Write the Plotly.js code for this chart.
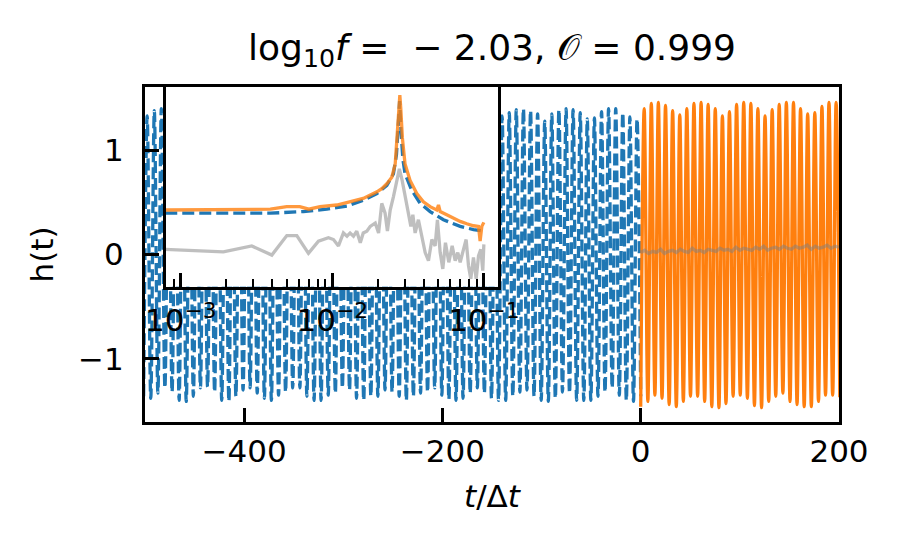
<!DOCTYPE html>
<html>
<head>
<meta charset="utf-8">
<script src="https://cdn.plot.ly/plotly-3.0.1.min.js"></script>
<style>
  body { margin: 0; background: white; }
  #chart { width: 902px; height: 552px; }
</style>
</head>
<body>
<div id="chart"></div>
<script>
// main panel: extremes of the waveform (t/dt, h)
var blueMaxT = [-497.8, -490.6, -483.5, -476.3, -469.1, -462.0, -454.8, -447.7, -440.5, -433.3,
    -426.2, -419.0, -411.9, -404.7, -397.5, -390.4, -383.2, -376.1, -368.9, -361.7,
    -354.6, -347.4, -340.3, -333.1, -325.9, -318.8, -311.6, -304.5, -297.3, -290.1,
    -283.0, -275.8, -268.7, -261.5, -254.3, -247.2, -240.0, -232.9, -225.7, -218.5,
    -211.4, -204.2, -197.1, -189.9, -182.7, -175.6, -168.4, -161.3, -154.1, -146.9,
    -139.8, -132.6, -125.5, -118.3, -111.1, -104.0, -96.8, -89.7, -82.5, -75.3,
    -68.2, -61.0, -53.9, -46.7, -39.5, -32.4, -25.2, -18.1, -10.9, -3.7];
var blueMaxV = [1.33, 1.38, 1.40, 1.40, 1.36, 1.31, 1.29, 1.34, 1.39, 1.41,
    1.38, 1.32, 1.29, 1.33, 1.38, 1.41, 1.39, 1.34, 1.30, 1.31,
    1.36, 1.40, 1.40, 1.36, 1.31, 1.29, 1.33, 1.38, 1.41, 1.39,
    1.34, 1.30, 1.31, 1.36, 1.40, 1.40, 1.36, 1.31, 1.29, 1.33,
    1.38, 1.41, 1.39, 1.34, 1.30, 1.29, 1.32, 1.37, 1.40, 1.38,
    1.33, 1.36, 1.39, 1.40, 1.38, 1.35, 1.28, 1.35, 1.39, 1.40,
    1.39, 1.36, 1.30, 1.31, 1.37, 1.40, 1.40, 1.36, 1.32, 1.30];
var blueMinT = [-501.4, -494.2, -487.0, -479.9, -472.7, -465.6, -458.4, -451.2, -444.1, -436.9,
    -429.8, -422.6, -415.4, -408.3, -401.1, -394.0, -386.8, -379.6, -372.5, -365.3,
    -358.2, -351.0, -343.8, -336.7, -329.5, -322.4, -315.2, -308.0, -300.9, -293.7,
    -286.6, -279.4, -272.2, -265.1, -257.9, -250.8, -243.6, -236.4, -229.3, -222.1,
    -215.0, -207.8, -200.6, -193.5, -186.3, -179.2, -172.0, -164.8, -157.7, -150.5,
    -143.4, -136.2, -129.0, -121.9, -114.7, -107.6, -100.4, -93.2, -86.1, -78.9,
    -71.8, -64.6, -57.4, -50.3, -43.1, -36.0, -28.8, -21.6, -14.5, -7.3, 0];
var blueMinV = [-1.36, -1.38, -1.33, -1.28, -1.32, -1.40, -1.41, -1.36, -1.28, -1.27,
    -1.32, -1.40, -1.41, -1.36, -1.30, -1.28, -1.33, -1.38, -1.40, -1.35,
    -1.32, -1.28, -1.28, -1.36, -1.40, -1.40, -1.35, -1.33, -1.28, -1.30,
    -1.38, -1.40, -1.36, -1.36, -1.30, -1.32, -1.36, -1.40, -1.36, -1.33,
    -1.32, -1.28, -1.35, -1.39, -1.40, -1.38, -1.33, -1.28, -1.33, -1.38,
    -1.40, -1.40, -1.36, -1.32, -1.30, -1.36, -1.40, -1.41, -1.38, -1.32,
    -1.33, -1.40, -1.40, -1.40, -1.36, -1.32, -1.28, -1.35, -1.40, -1.41, -1.36];

var orangeMaxT = [3.5, 10.7, 17.8, 25.0, 32.2, 39.4, 46.5, 53.7, 60.9, 68.0,
    75.2, 82.4, 89.5, 96.7, 103.9, 111.1, 118.2, 125.4, 132.6, 139.7,
    146.9, 154.1, 161.2, 168.4, 175.6, 182.8, 189.9, 197.1];
var orangeMaxV = [1.40, 1.45, 1.46, 1.43, 1.38, 1.34, 1.40, 1.45, 1.46, 1.44,
    1.40, 1.33, 1.37, 1.44, 1.46, 1.45, 1.40, 1.33, 1.39, 1.44,
    1.46, 1.46, 1.40, 1.35, 1.36, 1.42, 1.46, 1.46];
var orangeMinT = [0, 7.2, 14.3, 21.5, 28.7, 35.9, 43.0, 50.2, 57.4, 64.5,
    71.7, 78.9, 86.0, 93.2, 100.4, 107.6, 114.7, 121.9, 129.1, 136.2,
    143.4, 150.6, 157.7, 164.9, 172.1, 179.3, 186.4, 193.6, 200.8];
var orangeMinV = [-1.46, -1.41, -1.35, -1.38, -1.44, -1.46, -1.41, -1.36, -1.36, -1.41,
    -1.46, -1.47, -1.43, -1.36, -1.35, -1.38, -1.45, -1.47, -1.41, -1.36,
    -1.33, -1.41, -1.44, -1.46, -1.46, -1.41, -1.35, -1.35, -1.37];

var residT = [0, 4, 8, 12, 16, 20, 24, 28, 32, 36, 40, 44, 48, 52, 56, 60, 64, 68, 72, 76,
    80, 84, 88, 92, 96, 100, 104, 108, 112, 116, 120, 124, 128, 132, 136, 140, 144, 148,
    152, 156, 160, 164, 168, 172, 176, 180, 184, 188, 192, 196, 200];
var residV = [0.02, 0.04, 0.01, 0.03, 0.02, 0.05, 0.01, 0.03, 0.04, 0.02,
    0.05, 0.03, 0.02, 0.06, 0.03, 0.04, 0.02, 0.05, 0.04, 0.03,
    0.06, 0.04, 0.05, 0.03, 0.07, 0.04, 0.06, 0.05, 0.04, 0.07,
    0.05, 0.08, 0.04, 0.06, 0.07, 0.05, 0.08, 0.06, 0.05, 0.08,
    0.06, 0.07, 0.09, 0.05, 0.08, 0.06, 0.07, 0.09, 0.06, 0.08, 0.07];

// inset: spectra (frequency, height as fraction of the inset box)
var specBlueF = [7.9e-4, 2.0e-3, 3.9e-3, 6.45e-3, 9.2e-3, 1.25e-2, 1.6e-2, 1.97e-2, 2.29e-2, 2.53e-2,
    2.65e-2, 2.72e-2, 2.78e-2, 2.84e-2, 2.92e-2, 3.02e-2, 3.34e-2, 3.8e-2, 4.42e-2, 5.41e-2,
    6.98e-2, 8.54e-2, 9.94e-2];
var specBlueP = [0.368, 0.368, 0.368, 0.376, 0.388, 0.404, 0.433, 0.466, 0.507, 0.565,
    0.66, 0.80, 0.93, 0.78, 0.64, 0.565, 0.483, 0.417, 0.376, 0.335,
    0.302, 0.286, 0.278];

var specOrangeF = [7.9e-4, 2.0e-3, 3.9e-3, 5.0e-3, 6.1e-3, 7.0e-3, 8.3e-3, 1.07e-2, 1.31e-2, 1.6e-2,
    1.97e-2, 2.12e-2, 2.29e-2, 2.47e-2, 2.6e-2, 2.69e-2, 2.75e-2, 2.79e-2, 2.83e-2, 2.9e-2,
    3.02e-2, 3.26e-2, 3.61e-2, 3.99e-2, 4.42e-2, 4.89e-2, 5.02e-2, 5.15e-2, 5.69e-2, 6.3e-2,
    6.98e-2, 7.72e-2, 8.54e-2, 9.22e-2, 9.45e-2, 9.7e-2, 0.1];
var specOrangeP = [0.384, 0.388, 0.388, 0.401, 0.401, 0.388, 0.401, 0.409, 0.425, 0.442,
    0.475, 0.491, 0.516, 0.548, 0.614, 0.778, 0.926, 0.959, 0.893, 0.745,
    0.614, 0.532, 0.466, 0.425, 0.401, 0.384, 0.409, 0.376, 0.360, 0.343,
    0.327, 0.315, 0.305, 0.302, 0.228, 0.302, 0.322];

var specResF = [7.9e-4, 1.91e-3, 2.94e-3, 3.99e-3, 5.01e-3, 5.83e-3, 6.96e-3, 8.1e-3, 9.43e-3, 1.018e-2,
    1.098e-2, 1.184e-2, 1.25e-2, 1.31e-2, 1.38e-2, 1.45e-2, 1.53e-2, 1.6e-2, 1.69e-2, 1.78e-2,
    1.92e-2, 2.02e-2, 2.12e-2, 2.23e-2, 2.31e-2, 2.41e-2, 2.53e-2, 2.66e-2, 2.77e-2, 2.89e-2,
    3.02e-2, 3.18e-2, 3.3e-2, 3.4e-2, 3.52e-2, 3.7e-2, 3.9e-2, 4.1e-2, 4.31e-2, 4.54e-2,
    4.77e-2, 4.94e-2, 5.15e-2, 5.36e-2, 5.58e-2, 5.87e-2, 6.18e-2, 6.47e-2, 6.73e-2, 6.98e-2,
    7.34e-2, 7.64e-2, 7.92e-2, 8.2e-2, 8.54e-2, 8.9e-2, 9.22e-2, 9.55e-2, 9.84e-2, 0.1];
var specResP = [0.187, 0.174, 0.204, 0.158, 0.256, 0.256, 0.167, 0.228, 0.245, 0.236,
    0.204, 0.269, 0.253, 0.269, 0.253, 0.278, 0.220, 0.269, 0.278, 0.302,
    0.319, 0.269, 0.417, 0.368, 0.278, 0.384, 0.450, 0.532, 0.590, 0.532,
    0.450, 0.368, 0.302, 0.360, 0.269, 0.335, 0.253, 0.171, 0.130, 0.236,
    0.204, 0.335, 0.171, 0.089, 0.220, 0.122, 0.204, 0.130, 0.171, 0.122,
    0.187, 0.236, 0.105, 0.039, 0.146, 0.039, 0.154, 0.187, 0.080, 0.212];

var xTicks = [-400, -200, 0, 200];
var yTicks = [-1, 0, 1];
var insetTicks = [1e-3, 1e-2, 1e-1];
var insetTickText = ['10<sup>−3</sup>', '10<sup>−2</sup>', '10<sup>−1</sup>'];
var insetMinor = [8e-4, 9e-4, 2e-3, 3e-3, 4e-3, 5e-3, 6e-3, 7e-3, 8e-3, 9e-3,
    2e-2, 3e-2, 4e-2, 5e-2, 6e-2, 7e-2, 8e-2, 9e-2];

// put max and min points together in time order
function mergeExtremes(t1, v1, t2, v2) {
    var pts = [];
    t1.forEach((t, i) => pts.push([t, v1[i]]));
    t2.forEach((t, i) => pts.push([t, v2[i]]));
    pts.sort((a, b) => a[0] - b[0]);
    return { x: pts.map(p => p[0]), y: pts.map(p => p[1]) };
}

var blue = mergeExtremes(blueMaxT, blueMaxV, blueMinT, blueMinV);
var orange = mergeExtremes(orangeMaxT, orangeMaxV, orangeMinT, orangeMinV);

var BLUE = '#1f77b4';
var ORANGE = '#ff7f0e';
var LW = 3.3;

var data = [
    { x: blue.x, y: blue.y, type: 'scatter', mode: 'lines',
      line: { color: BLUE, width: LW, dash: '12px,5px', shape: 'spline', smoothing: 1 } },
    { x: orange.x, y: orange.y, type: 'scatter', mode: 'lines',
      line: { color: ORANGE, width: LW, shape: 'spline', smoothing: 1 } },
    { x: residT, y: residV, type: 'scatter', mode: 'lines',
      line: { color: 'rgba(128,128,128,0.5)', width: LW } },

    // inset spectra (the inset subplot gets its own white background from plotly)
    { x: specBlueF, y: specBlueP, xaxis: 'x2', yaxis: 'y2', type: 'scatter', mode: 'lines',
      line: { color: BLUE, width: LW, dash: '12px,5px' } },
    { x: specOrangeF, y: specOrangeP, xaxis: 'x2', yaxis: 'y2', type: 'scatter', mode: 'lines',
      line: { color: 'rgba(255,127,14,0.8)', width: LW } },
    { x: specResF, y: specResP, xaxis: 'x2', yaxis: 'y2', type: 'scatter', mode: 'lines',
      line: { color: 'rgba(128,128,128,0.5)', width: LW } }
];

var axisStyle = {
    showline: true, mirror: true, linewidth: LW, linecolor: 'black',
    ticks: 'inside', ticklen: 14, tickwidth: LW, tickcolor: 'black',
    showgrid: false, zeroline: false,
    tickfont: { family: 'DejaVu Sans', size: 31, color: 'black' }
};

var layout = {
    width: 902, height: 552,
    margin: { l: 145, r: 63, t: 87, b: 130 },
    paper_bgcolor: 'white', plot_bgcolor: 'white',
    showlegend: false,
    font: { family: 'DejaVu Sans', size: 31, color: 'black' },
    title: {
        text: 'log<sub>10</sub><i>f</i>\u00a0=\u00a0 − 2.03,\u00a0𝒪 = 0.999',
        xref: 'paper', x: 0.5, xanchor: 'center',
        yref: 'container', y: 1 - 47 / 552, yanchor: 'middle',
        font: { family: 'DejaVu Sans', size: 36 }
    },
    xaxis: Object.assign({}, axisStyle, {
        range: [-500, 200], tickmode: 'array', tickvals: xTicks,
        ticklabelstandoff: 0,
        title: { text: '<i>t</i>/Δ<i>t</i>', standoff: 17, font: { size: 31 } }
    }),
    yaxis: Object.assign({}, axisStyle, {
        range: [-1.607, 1.607], tickmode: 'array', tickvals: yTicks,
        ticklabelstandoff: 12,
        title: { text: 'h(t)', standoff: 16, font: { size: 31 } }
    }),
    xaxis2: Object.assign({}, axisStyle, {
        type: 'log', domain: [0.0297, 0.509], anchor: 'y2',
        range: [-3.10, -0.905], tickmode: 'array',
        tickvals: insetTicks, ticktext: insetTickText,
        ticklabelstandoff: 4,
        minor: { ticks: 'inside', ticklen: 8, tickwidth: 2.2, tickcolor: 'black', tickvals: insetMinor }
    }),
    yaxis2: Object.assign({}, axisStyle, {
        domain: [0.404, 1.0], anchor: 'x2', range: [0, 1],
        ticks: '', showticklabels: false
    })
};

var config = { displayModeBar: false };

Plotly.newPlot('chart', data, layout, config);
</script>
</body>
</html>
